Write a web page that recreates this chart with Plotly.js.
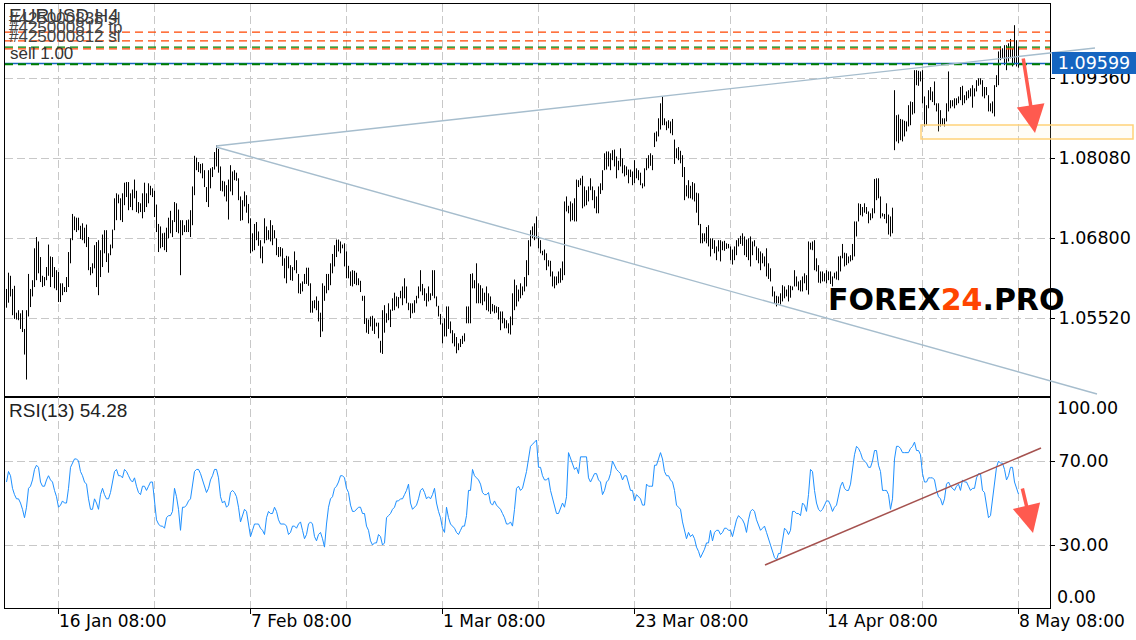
<!DOCTYPE html>
<html>
<head>
<meta charset="utf-8">
<script src="https://cdn.plot.ly/plotly-3.0.1.min.js"></script>
<style>html,body{margin:0;padding:0;background:#fff;}#chart{width:1136px;height:640px;}</style>
</head>
<body>
<div id="chart"></div>
<script>
// ---- DATA: EURUSD H4 bar highs / lows ----
const highSeg1 = [1.0599,1.0625,1.0620,1.0599,1.0604,1.0561,1.0565,1.0560,1.0565,1.0535,
1.0565,1.0623,1.0599,1.0613,1.0664,1.0682,1.0675,1.0650,1.0620,1.0618,
1.0634,1.0670,1.0651,1.0650,1.0634,1.0629,1.0626,1.0608,1.0608,1.0602,
1.0618,1.0658,1.0680,1.0719,1.0715,1.0713,1.0713,1.0700,1.0704,1.0697,
1.0702,1.0682,1.0634,1.0640,1.0669,1.0674,1.0677,1.0661,1.0686,1.0693,
1.0693,1.0656,1.0670,1.0694,1.0744,1.0752,1.0750,1.0744,1.0752,1.0769,
1.0770,1.0770,1.0752,1.0758,1.0774,1.0756,1.0738,1.0736,1.0752,1.0769,
1.0752,1.0768,1.0764,1.0760,1.0756,1.0734,1.0703,1.0699,1.0688,1.0689,
1.0697,1.0713,1.0724,1.0709,1.0738,1.0736,1.0726,1.0709,1.0709,1.0701,
1.0709,1.0710,1.0725,1.0763,1.0812,1.0809,1.0802,1.0799,1.0800,1.0789,
1.0762,1.0789,1.0792,1.0794,1.0818];
const lowSeg1 = [1.0569,1.0577,1.0587,1.0557,1.0551,1.0550,1.0549,1.0535,1.0530,1.0494,
1.0454,1.0555,1.0570,1.0587,1.0602,1.0613,1.0624,1.0610,1.0602,1.0604,
1.0613,1.0620,1.0602,1.0618,1.0600,1.0597,1.0578,1.0578,1.0589,1.0594,
1.0594,1.0602,1.0640,1.0677,1.0693,1.0690,1.0693,1.0679,1.0677,1.0672,
1.0666,1.0629,1.0621,1.0624,1.0632,1.0602,1.0589,1.0618,1.0634,1.0656,
1.0642,1.0625,1.0653,1.0664,1.0693,1.0709,1.0736,1.0709,1.0706,1.0733,
1.0746,1.0725,1.0730,1.0725,1.0744,1.0722,1.0720,1.0722,1.0712,1.0722,
1.0730,1.0736,1.0749,1.0746,1.0714,1.0690,1.0658,1.0664,1.0666,1.0661,
1.0658,1.0680,1.0688,1.0682,1.0706,1.0690,1.0688,1.0621,1.0685,1.0690,
1.0690,1.0690,1.0682,1.0701,1.0749,1.0789,1.0786,1.0784,1.0776,1.0762,
1.0738,1.0730,1.0760,1.0778,1.0790];

const highSeg2 = [1.0829,1.0823,1.0795,1.0772,1.0771,1.0765,1.0774,1.0797,1.0787,1.0789,
1.0785,1.0776,1.0747,1.0741,1.0755,1.0749,1.0735,1.0712,1.0688,1.0703,
1.0706,1.0691,1.0677,1.0667,1.0712,1.0699,1.0693,1.0709,1.0701,1.0693,
1.0680,1.0666,1.0666,1.0664,1.0648,1.0652,1.0651,1.0637,1.0634,1.0659,
1.0645,1.0623,1.0608,1.0611,1.0623,1.0633,1.0633,1.0608,1.0580,1.0581,
1.0587,1.0580,1.0561,1.0608,1.0604,1.0623,1.0623,1.0640,1.0655,1.0669,
1.0678,1.0678,1.0675,1.0670,1.0672,1.0659,1.0636,1.0627,1.0629,1.0628,
1.0625,1.0616,1.0612,1.0588,1.0588,1.0552,1.0550,1.0555,1.0556,1.0552,1.0545,1.0545,1.0516,
1.0565,1.0573,1.0560,1.0576,1.0566,1.0584,1.0593,1.0587,1.0586,1.0596,
1.0603,1.0616,1.0603,1.0577,1.0576,1.0576,1.0581,1.0588,1.0603,1.0629,
1.0607,1.0600,1.0592,1.0603,1.0592,1.0629];
const lowSeg2 = [1.0795,1.0785,1.0756,1.0755,1.0747,1.0739,1.0710,1.0755,1.0749,1.0773,
1.0772,1.0741,1.0708,1.0709,1.0731,1.0721,1.0704,1.0656,1.0659,1.0661,
1.0677,1.0668,1.0648,1.0640,1.0672,1.0677,1.0678,1.0675,1.0669,1.0680,
1.0653,1.0650,1.0651,1.0636,1.0616,1.0608,1.0632,1.0613,1.0612,1.0629,
1.0624,1.0592,1.0591,1.0595,1.0607,1.0607,1.0604,1.0561,1.0561,1.0568,
1.0565,1.0547,1.0522,1.0531,1.0580,1.0592,1.0597,1.0605,1.0624,1.0635,
1.0650,1.0659,1.0656,1.0664,1.0635,1.0616,1.0616,1.0604,1.0603,1.0607,
1.0605,1.0605,1.0594,1.0580,1.0543,1.0529,1.0527,1.0539,1.0532,1.0527,1.0539,1.0520,1.0497,
1.0495,1.0529,1.0545,1.0549,1.0538,1.0564,1.0565,1.0571,1.0568,1.0584,
1.0573,1.0584,1.0576,1.0565,1.0552,1.0560,1.0561,1.0576,1.0584,1.0595,
1.0589,1.0580,1.0571,1.0579,1.0581,1.0588];

const highSeg3 = [1.0629,1.0587,1.0572,1.0559,1.0544,1.0552,1.0571,1.0571,1.0547,1.0533,
1.0528,1.0522,1.0512,1.0519,1.0524,1.0528,1.0571,1.0571,1.0623,1.0624,
1.0613,1.0640,1.0608,1.0605,1.0600,1.0593,1.0603,1.0592,1.0587,1.0575,
1.0573,1.0571,1.0570,1.0563,1.0563,1.0552,1.0549,1.0544,1.0555,1.0592,
1.0614,1.0605,1.0598,1.0608,1.0603,1.0618,1.0645,1.0677,1.0693,1.0699,
1.0704,1.0715,1.0683,1.0677,1.0660,1.0662,1.0656,1.0645,1.0644,1.0627,
1.0619,1.0619,1.0627,1.0632,1.0643,1.0739,1.0747,1.0732,1.0739,1.0736,
1.0744,1.0774,1.0773,1.0776,1.0780,1.0763,1.0757,1.0763,1.0776,1.0763,
1.0757,1.0747,1.0763,1.0768,1.0789,1.0816,1.0819,1.0819,1.0816,1.0821,
1.0822,1.0811,1.0804,1.0824,1.0808,1.0797,1.0795,1.0790,1.0790,1.0787,
1.0805,1.0792,1.0789,1.0785,1.0768,1.0792,1.0808,1.0813];
const lowSeg3 = [1.0584,1.0571,1.0555,1.0542,1.0512,1.0523,1.0523,1.0535,1.0528,1.0512,
1.0507,1.0496,1.0501,1.0506,1.0511,1.0515,1.0544,1.0544,1.0544,1.0600,
1.0600,1.0576,1.0576,1.0576,1.0573,1.0579,1.0565,1.0563,1.0559,1.0563,
1.0560,1.0561,1.0550,1.0533,1.0544,1.0536,1.0536,1.0528,1.0526,1.0541,
1.0565,1.0571,1.0579,1.0584,1.0589,1.0595,1.0603,1.0621,1.0667,1.0680,
1.0677,1.0680,1.0664,1.0656,1.0653,1.0645,1.0629,1.0635,1.0619,1.0603,
1.0600,1.0605,1.0608,1.0609,1.0613,1.0621,1.0723,1.0720,1.0707,1.0709,
1.0707,1.0707,1.0762,1.0765,1.0728,1.0731,1.0733,1.0739,1.0757,1.0741,
1.0728,1.0720,1.0720,1.0751,1.0757,1.0789,1.0790,1.0795,1.0789,1.0805,
1.0795,1.0776,1.0789,1.0795,1.0784,1.0779,1.0781,1.0768,1.0778,1.0765,
1.0768,1.0776,1.0773,1.0765,1.0760,1.0763,1.0789,1.0792];

const highSeg4 = [1.0816,1.0813,1.0849,1.0851,1.0872,1.0896,1.0907,1.0872,1.0867,1.0869,
1.0867,1.0871,1.0838,1.0824,1.0826,1.0820,
1.0813,1.0794,1.0765,1.0773,1.0764,1.0770,
1.0768,1.0753,1.0752,1.0703,1.0688,1.0688,1.0698,1.0701,1.0680,1.0680,
1.0677,1.0667,1.0677,1.0677,1.0675,1.0676,
1.0672,1.0671,1.0667,1.0662,1.0667,1.0677,1.0680,1.0684,1.0688,1.0683,1.0678,
1.0680,1.0683,1.0675,1.0677,1.0667,1.0664,1.0659,1.0656,1.0651,1.0664,1.0640,
1.0632,1.0603,1.0595,1.0588,1.0587,1.0592,1.0605,1.0603,1.0598,1.0605,1.0604,
1.0603,1.0629,1.0619,1.0611,1.0613,1.0619,1.0624,1.0621,1.0675,1.0673,
1.0675,1.0677,1.0648,1.0637,1.0627,1.0627,1.0624,1.0629,1.0627,1.0627,
1.0619,1.0625,1.0627,1.0651,1.0652,1.0671,1.0657,1.0656,1.0651,1.0653,
1.0671,1.0707,1.0707,1.0736,1.0735,1.0730,1.0736,1.0730,1.0723];
const lowSeg4 = [1.0796,1.0789,1.0826,1.0835,1.0843,1.0854,1.0861,1.0861,1.0853,1.0856,
1.0848,1.0845,1.0799,1.0808,1.0805,1.0800,
1.0778,1.0741,1.0747,1.0744,1.0744,1.0742,
1.0739,1.0721,1.0701,1.0672,1.0672,1.0675,1.0672,1.0667,1.0651,1.0663,
1.0656,1.0645,1.0659,1.0643,1.0661,1.0660,
1.0663,1.0664,1.0645,1.0638,1.0645,1.0653,1.0667,1.0671,1.0668,1.0653,1.0650,
1.0645,1.0635,1.0653,1.0667,1.0645,1.0640,1.0629,1.0640,1.0635,1.0619,1.0615,
1.0611,1.0587,1.0576,1.0571,1.0576,1.0574,1.0579,1.0584,1.0587,1.0579,1.0585,
1.0597,1.0603,1.0603,1.0597,1.0595,1.0595,1.0608,1.0597,1.0590,1.0662,
1.0661,1.0629,1.0627,1.0609,1.0608,1.0611,1.0611,1.0608,1.0613,1.0607,
1.0603,1.0616,1.0614,1.0613,1.0627,1.0648,1.0635,1.0637,1.0640,1.0643,
1.0645,1.0651,1.0683,1.0707,1.0717,1.0715,1.0721,1.0719,1.0704];

const highSeg5 = [1.0720,1.0728,1.0775,1.0776,1.0776,1.0747,1.0720,1.0719,1.0736,1.0718,1.0715,1.0729,
1.0917,1.0877,1.0878,1.0871,1.0870,1.0868,1.0867,1.0893,1.0899,1.0898,
1.0949,1.0949,1.0948,1.0947,1.0949,1.0907,1.0893,1.0917,1.0922,1.0915,
1.0931,1.0896,1.0896,1.0885,1.0872,1.0872,1.0896,1.0947,1.0901,1.0901,
1.0904,1.0904,1.0907,1.0922,1.0924,1.0909,1.0915,1.0917,1.0920,1.0925,
1.0920,1.0933,1.0936,1.0936,1.0933,1.0922,1.0922,1.0909,1.0896,1.0899,
1.0925,1.0941,1.0979,1.0987,1.0984,1.0989,1.0989,1.0992,1.0999,1.0984,
1.1021,1.0997,1.0987];
const lowSeg5 = [1.0709,1.0712,1.0720,1.0741,1.0744,1.0712,1.0715,1.0711,1.0704,1.0686,1.0683,1.0688,
1.0821,1.0835,1.0832,1.0837,1.0835,1.0843,1.0851,1.0859,1.0861,1.0878,
1.0880,1.0925,1.0924,1.0931,1.0896,1.0859,1.0861,1.0888,1.0901,1.0898,
1.0893,1.0883,1.0851,1.0859,1.0861,1.0859,1.0867,1.0883,1.0888,1.0891,
1.0888,1.0893,1.0896,1.0901,1.0893,1.0896,1.0901,1.0904,1.0907,1.0889,
1.0907,1.0915,1.0924,1.0926,1.0907,1.0904,1.0909,1.0883,1.0883,1.0880,
1.0875,1.0922,1.0925,1.0965,1.0968,1.0957,1.0949,1.0963,1.0968,1.0955,
1.0958,1.0955,1.0953];

// ---- RSI(13) ----
const rsiSeg1 = [60,65,63,57,54,52,52,50,47,43, 48,57,58,61,66,68,67,60,58,58,
61,63,61,60,56,53,48,49,51,50, 50,57,67,69,71,71,70,65,63,60,
59,52,47,47,52,50,47,54,57,54, 52,52,55,60,65,66,63,63,62,66,
65,63,61,60,62,58,55,54,58,58, 56,58,60,60,52,42,40,39,39,38,
43,44,44,46,57,53,47,37,48,48, 49,51,52,60,65,66,66,64,61,58,
55,57,61,63,66,66,62,53,50,51, 48,49,55,56,55,53,48,41,44,47,
46,40,34,37,40,40,40,38,37,35, 43,46,45,45,48,46,42,40,40,40,
39,35,36,39,39,38,40,41,37,33, 35,40,41,40,34,32,35,36,33,29,
40,48,52,53,57,58,60,63,63,62, 57,55,49];
const rsiSeg2 = [46,46,47,48,48,45,45,39,37,32, 30,31,31,35,34,30,31,43,44,45,
47,48,51,51,52,52,54,56,59,50, 47,48,49,52,56,57,55,52,53,52,
54,57,50,46,43,38,36,48,43,40, 39,38,36,35,37,39,39,44,56,56,
66,63,62,61,59,55,54,54,55,50, 49,51,49,48,47,45,43,40,40,41,
39,47,57,58,56,57,61,65,71,77, 78,79,80,67,67,63,61,61,62,56,
52,49,45,45,48,50,48,53,74,71, 68,66,67,64,72,72,72,72,62,60,
62,64,64,61,60,54,56,60,61,64, 70,68,66,65,64,61,63,63,59,56,
56,51,54,53,52,49,49,59,58,58, 58,68,68,71,74,71,65,63,63,61,
60,56,49,48,47,41,37,33,36,34, 35,33,29,27,24];
const rsiSeg3 = [26,28,31,31,37,32,36,37,37,35, 36,38,38,37,37,34,38,42,44,43,
42,40,36,42,46,47,46,42,39,37, 38,39,36,33,29,26,24,23,26,26,
32,38,37,35,37,46,46,45,45,44, 50,49,46,54,66,65,56,50,47,46,
47,49,51,51,49,46,48,49,53,58, 60,57,56,56,59,66,73,77,76,74,
71,70,69,67,67,70,75,75,68,65, 56,56,56,54,47,52,71,77,77,76,
74,74,74,74,76,77,79,75,75,73, 64,60,60,62,62,62,61,56,53,52,
49,52,59,60,58,57,56,58,59,56, 61,60,60,58,56,57,57,62,64,64,
56,55,49,43,44,51,58,67,70,69, 69,66,61,63,67,67,60,57,54.28];

// ---- Axis labels ----
const priceTicks = [1.0552, 1.0680, 1.0808, 1.0936];
const priceTickText = ['1.05520', '1.06800', '1.08080', '1.09360'];
const dateLabels = ['16 Jan 08:00', '7 Feb 08:00', '1 Mar 08:00', '23 Mar 08:00', '14 Apr 08:00', '8 May 08:00'];
const dateLabelBar = [26, 122, 218, 314, 410, 506];
const bidPrice = 1.09599;
const orderLevelsRed = [1.1010, 1.0996, 1.0983];
const orderLevelsGreen = [1.0986, 1.09585];
const rsiValue = '54.28';

// ---- build ----
const high = [].concat(highSeg1, highSeg2, highSeg3, highSeg4, highSeg5);
const low  = [].concat(lowSeg1, lowSeg2, lowSeg3, lowSeg4, lowSeg5);
const rsi  = [].concat(rsiSeg1, rsiSeg2, rsiSeg3);
const N = Math.min(high.length, low.length);

const bx = [], by = [];
for (let i = 0; i < N; i++) { bx.push(i, i, null); by.push(low[i], high[i], null); }
const rx = rsi.map((_, i) => i);

const W = 1136, H = 640, L = 5, R = 86, T = 4, B = 32;
const pw = W - L - R, ph = H - T - B;
const px = x => (x - L) / pw;
const py = y => (H - B - y) / ph;
const split = py(397);

const GRID = '#c8c8c8', GD = '8px,4px';
const FONT = 'DejaVu Sans, Liberation Sans, sans-serif';
const TXT = 'Liberation Sans, Arial, sans-serif';

const traces = [
  {type: 'scatter', mode: 'lines', x: bx, y: by, xaxis: 'x', yaxis: 'y',
   line: {color: '#000', width: 1}, hoverinfo: 'skip', connectgaps: false},
  {type: 'scatter', mode: 'lines', x: rx, y: rsi, xaxis: 'x2', yaxis: 'y2',
   line: {color: '#1e90ff', width: 1}, hoverinfo: 'skip'}
];

const xr = [-0.75, 521.75];
const shapes = [];
function pline(x0, y0, x1, y1, color, width, dash) {
  shapes.push({type: 'line', xref: 'paper', yref: 'paper', x0: px(x0), y0: py(y0), x1: px(x1), y1: py(y1),
    line: {color: color, width: width, dash: dash || 'solid'}});
}
// bid line and order levels
shapes.push({type: 'line', xref: 'paper', yref: 'y', x0: 0, x1: 1, y0: bidPrice, y1: bidPrice, line: {color: '#1565c0', width: 1.5}});
orderLevelsRed.forEach(v => shapes.push({type: 'line', xref: 'paper', yref: 'y', x0: 0, x1: 1, y0: v, y1: v, line: {color: '#ff4500', width: 1.3, dash: '8px,5px'}}));
orderLevelsGreen.forEach((v, k) => shapes.push({type: 'line', xref: 'paper', yref: 'y', x0: 0, x1: 1, y0: v, y1: v, line: {color: '#008000', width: k ? 2 : 1.3, dash: '8px,5px'}}));
// trend lines (price)
pline(216, 146, 1095, 48, '#a6bdcd', 1.4);
pline(216, 147, 1097, 394, '#a6bdcd', 1.4);
// target box
shapes.push({type: 'rect', xref: 'paper', yref: 'paper', x0: px(921), x1: px(1133), y0: py(139), y1: py(125),
  line: {color: '#ffd27a', width: 1.5}, fillcolor: 'rgba(255,236,190,0.12)'});
// RSI trend line
pline(765, 565, 1041, 448, '#a5524f', 1.5);

const ann = [];
function txt(text, x, y, size, color, opts) {
  ann.push(Object.assign({xref: 'paper', yref: 'paper', x: px(x), y: py(y), xanchor: 'left', yanchor: 'middle',
    text: text, showarrow: false, font: {family: TXT, size: size, color: color}}, opts || {}));
}
// top-left labels (overlapping as in MT4)
txt('EURUSD,H4', 7, 15, 19, '#333');
txt('#425000838 sl', 7, 19, 17, '#444');
txt('#425000812 tp', 7, 27, 17, '#444');
txt('#425000812 sl', 7, 36, 17, '#444');
txt('sell 1.00', 8, 54, 17, '#333');
// RSI label
txt('RSI(13) ' + rsiValue, 7, 410, 19, '#222');
// RSI edge labels
txt('100.00', 1055, 408, 17, '#000', {font: {family: FONT, size: 17.5, color: '#000'}});
txt('0.00', 1055, 597, 17, '#000', {font: {family: FONT, size: 17.5, color: '#000'}});
// bid price tag
ann.push({xref: 'paper', yref: 'y', x: px(1052), y: bidPrice, xanchor: 'left', yanchor: 'middle',
  text: bidPrice.toFixed(5), showarrow: false, bgcolor: '#1565c0', borderwidth: 0, borderpad: 2,
  width: 80, height: 18, font: {family: FONT, size: 17.5, color: '#fff'}});
// date labels
dateLabels.forEach((d, k) => ann.push({xref: 'x2', yref: 'paper', x: dateLabelBar[k], y: py(621), xanchor: 'left', yanchor: 'middle',
  xshift: -2, text: d, showarrow: false, font: {family: FONT, size: 17, color: '#000'}}));
// watermark
txt('FOREX<span style="color:#ff4500">24</span>.PRO', 826, 299, 30, '#000',
  {font: {family: 'DejaVu Sans, sans-serif', size: 30, color: '#000', weight: 'bold'}});
// red arrows
ann.push({xref: 'paper', yref: 'paper', x: px(1035), y: py(133), ax: -12, ay: -76, text: '', showarrow: true,
  arrowhead: 2, arrowsize: 1.6, arrowwidth: 3.5, arrowcolor: '#ff5a4f', standoff: 0});
ann.push({xref: 'paper', yref: 'paper', x: px(1033), y: py(533), ax: -11, ay: -46, text: '', showarrow: true,
  arrowhead: 2, arrowsize: 1.6, arrowwidth: 3.5, arrowcolor: '#ff5a4f', standoff: 0});

const axLine = {showline: true, mirror: true, linecolor: '#000', linewidth: 1, zeroline: false};
const layout = {
  width: W, height: H, margin: {l: L, r: R, t: T, b: B, pad: 0},
  paper_bgcolor: '#fff', plot_bgcolor: '#fff', showlegend: false,
  xaxis: Object.assign({domain: [0, 1], anchor: 'y', range: xr, tickmode: 'linear', tick0: 26, dtick: 48,
    showgrid: true, gridcolor: GRID, griddash: GD, gridwidth: 1, ticks: '', showticklabels: false}, axLine),
  xaxis2: Object.assign({domain: [0, 1], anchor: 'y2', range: xr, tickmode: 'linear', tick0: 26, dtick: 96,
    showgrid: true, gridcolor: GRID, griddash: GD, gridwidth: 1, ticks: 'outside', ticklen: 5, tickcolor: '#000',
    showticklabels: false,
    minor: {tick0: 26, dtick: 48, showgrid: true, gridcolor: GRID, griddash: GD, gridwidth: 1, ticks: ''}}, axLine),
  yaxis: Object.assign({domain: [split, 1], anchor: 'x', side: 'right', range: [1.04261, 1.10549],
    tickmode: 'array', tickvals: priceTicks, ticktext: priceTickText, ticks: 'outside', ticklen: 4, tickcolor: '#000',
    showgrid: true, gridcolor: GRID, griddash: GD, gridwidth: 1, ticklabelstandoff: 0,
    tickfont: {family: FONT, size: 17.5, color: '#000'}}, axLine),
  yaxis2: Object.assign({domain: [0, split], anchor: 'x2', side: 'right', range: [0, 100.5],
    tickmode: 'array', tickvals: [30, 70], ticktext: ['30.00', '70.00'], ticks: 'outside', ticklen: 4, tickcolor: '#000',
    showgrid: true, gridcolor: GRID, griddash: GD, gridwidth: 1, ticklabelstandoff: 0,
    tickfont: {family: FONT, size: 17.5, color: '#000'}}, axLine),
  shapes: shapes, annotations: ann
};
Plotly.newPlot('chart', traces, layout, {staticPlot: true, displayModeBar: false});
</script>
</body>
</html>
